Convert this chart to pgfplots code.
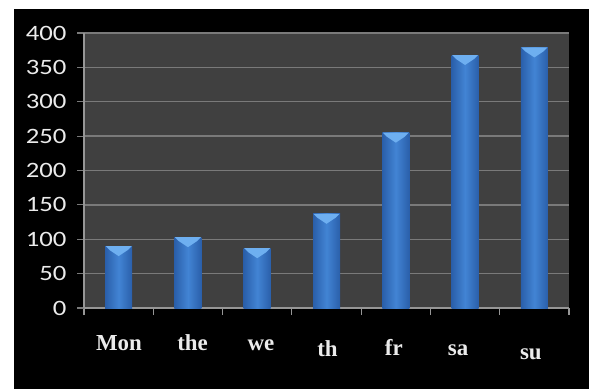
\documentclass[border=0pt]{standalone}
\usepackage{pgfplots}
\pgfplotsset{compat=1.18}
\usepackage{fontspec}
\setmainfont{Liberation Serif}
\newfontfamily\calib{Carlito}
\definecolor{plotbg}{RGB}{64,64,64}
\definecolor{gridc}{RGB}{122,122,122}
\definecolor{axc}{RGB}{150,150,150}
\definecolor{barL}{RGB}{42,95,170}
\definecolor{barM}{RGB}{66,132,212}
\definecolor{capc}{RGB}{110,175,240}
\definecolor{labc}{RGB}{235,235,235}
\pgfdeclareplotmark{cap}{%
  \pgfpathmoveto{\pgfpoint{-13bp}{0bp}}%
  \pgfpathlineto{\pgfpoint{13bp}{0bp}}%
  \pgfpathlineto{\pgfpoint{9bp}{-4bp}}%
  \pgfpathlineto{\pgfpoint{0bp}{-10bp}}%
  \pgfpathlineto{\pgfpoint{-9bp}{-4bp}}%
  \pgfpathclose\pgfusepathqfill}
\newcommand\lab[3]{\makebox[0pt]{\hspace*{#1}\hspace*{#1}\raisebox{#2}{#3}}}
\pgfplotsset{mybar/.style={ybar, bar width=27bp, bar shift=0pt, draw=none, left color=barL, right color=barL, middle color=barM}}
\begin{document}
\begin{tikzpicture}[x=1bp,y=1bp]
\useasboundingbox (0,0) rectangle (589,389);
\fill[white] (0,0) rectangle (589,389);
\fill[black] (14,0) rectangle (589,380);
\begin{axis}[
  at={(84bp,81bp)}, anchor=south west,
  scale only axis, width=485bp, height=275bp,
  xmin=-0.5, xmax=6.5, ymin=0, ymax=400,
  ytick={0,50,...,400},
  ymajorgrids, grid style={gridc, line width=1.3bp},
  xtick={0,...,6},
  xticklabels={\lab{0.3bp}{0bp}{Mon},\lab{4.7bp}{0bp}{the},\lab{3.7bp}{0bp}{we},\lab{1bp}{-6bp}{th},\lab{-2bp}{-5bp}{fr},\lab{-7bp}{-5bp}{sa},\lab{-3.5bp}{-9bp}{su}},
  minor xtick={-0.5,0.5,...,6.5},
  axis background/.style={fill=plotbg},
  axis x line*=bottom, axis y line*=left,
  axis line style={-, draw=axc, line width=1.2bp},
  tick align=outside, major tick length=7bp, minor tick length=7bp,
  major x tick style={draw=none},
  minor x tick style={draw=axc, line width=1.2bp},
  y tick style={draw=gridc, line width=1.2bp},
  /pgf/number format/assume math mode=true,
  yticklabel style={font=\calib\fontsize{22}{22}\selectfont, text=labc, anchor=east, xshift=-7bp},
  yticklabel={\scalebox{1.22}[1]{\pgfmathprintnumber{\tick}}},
  xticklabel style={font=\bfseries\fontsize{23}{23}\selectfont, text=labc, anchor=base, yshift=-35bp},
]
\addplot[mybar] coordinates {(0,90)};
\addplot[mybar] coordinates {(1,103)};
\addplot[mybar] coordinates {(2,87)};
\addplot[mybar] coordinates {(3,137)};
\addplot[mybar] coordinates {(4,255)};
\addplot[mybar] coordinates {(5,368)};
\addplot[mybar] coordinates {(6,379)};
\addplot[only marks, mark=cap, draw=none, fill=capc]
  coordinates {(0,90) (1,103) (2,87) (3,137) (4,255) (5,368) (6,379)};
\end{axis}
\end{tikzpicture}
\end{document}
